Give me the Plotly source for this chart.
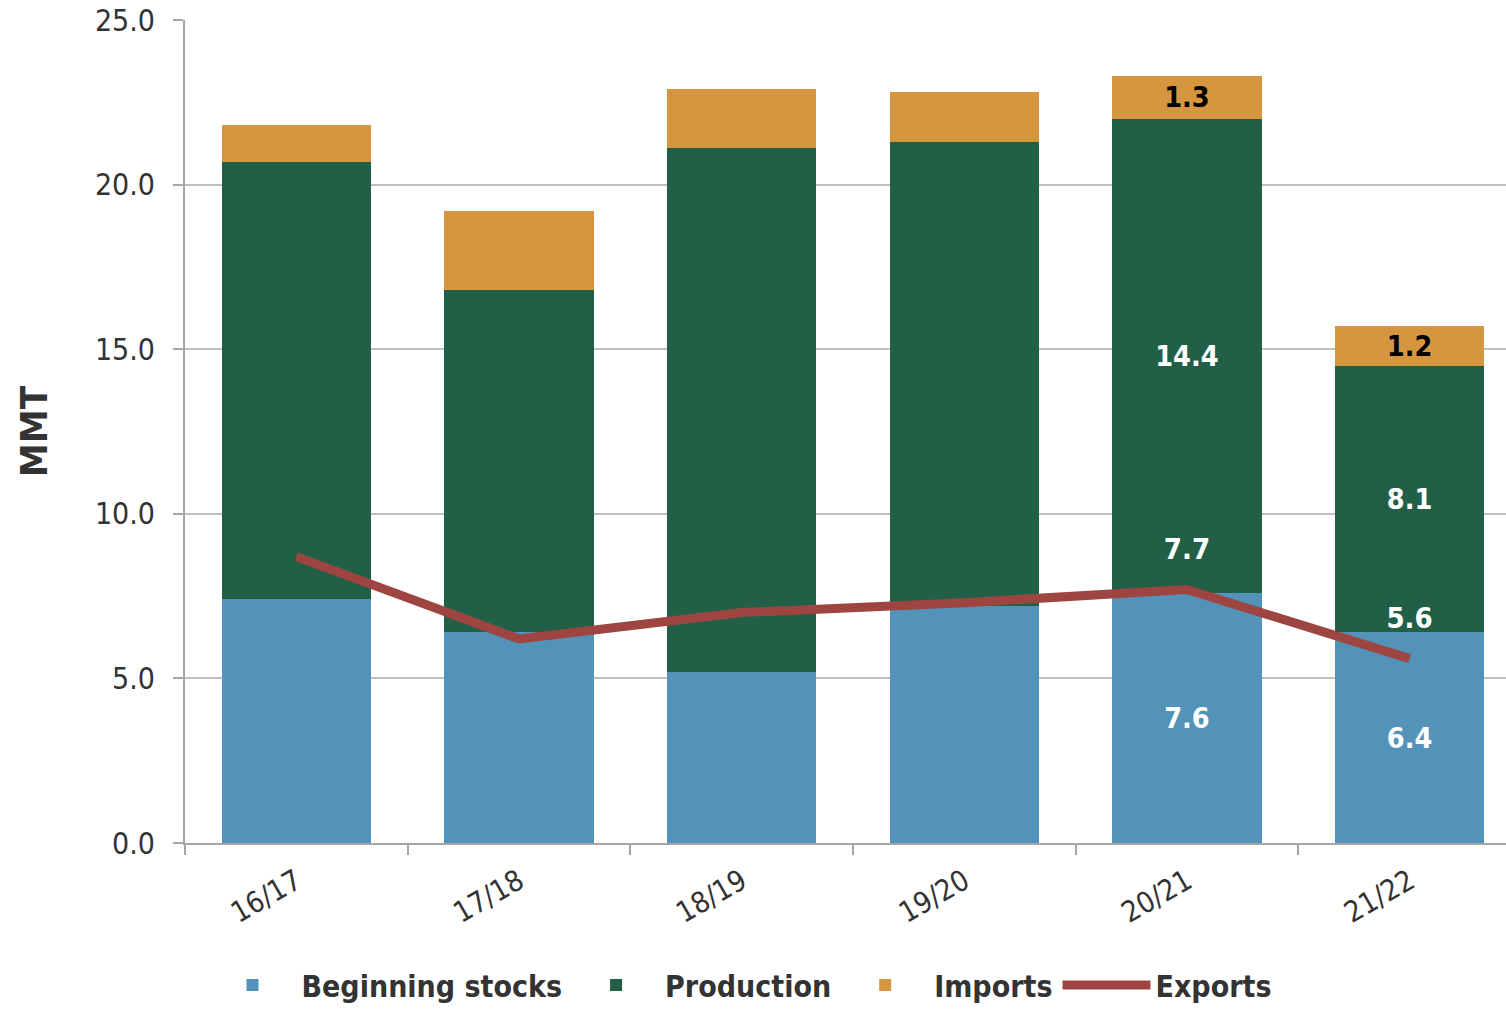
import plotly.graph_objects as go

years = ["16/17", "17/18", "18/19", "19/20", "20/21", "21/22"]
beginning_stocks = [7.4, 6.4, 5.2, 7.2, 7.6, 6.4]
production = [13.3, 10.4, 15.9, 14.1, 14.4, 8.1]
imports = [1.1, 2.4, 1.8, 1.5, 1.3, 1.2]
exports = [8.7, 6.2, 7.0, 7.3, 7.7, 5.6]

# only the last two marketing years carry data labels
labelled = [False, False, False, False, True, True]


def labels(values):
    return [f"{v:.1f}" if show else "" for v, show in zip(values, labelled)]


FONT = "DejaVu Sans Condensed, Liberation Sans Narrow, Arial Narrow, sans-serif"

fig = go.Figure()

fig.add_trace(go.Bar(
    x=years, y=beginning_stocks, name="Beginning stocks",
    marker_color="#5393BA", marker_line_width=0,
    text=labels(beginning_stocks), textposition="inside", insidetextanchor="middle",
    textfont=dict(color="white", size=29, family=FONT, weight="bold"),
))
fig.add_trace(go.Bar(
    x=years, y=production, name="Production",
    marker_color="#216047", marker_line_width=0,
    text=labels(production), textposition="inside", insidetextanchor="middle",
    textfont=dict(color="white", size=29, family=FONT, weight="bold"),
))
fig.add_trace(go.Bar(
    x=years, y=imports, name="Imports",
    marker_color="#D6963F", marker_line_width=0,
    text=labels(imports), textposition="inside", insidetextanchor="middle",
    textfont=dict(color="black", size=29, family=FONT, weight="bold"),
))
fig.add_trace(go.Scatter(
    x=years, y=exports, name="Exports", mode="lines+markers+text",
    line=dict(color="#9E4541", width=9),
    marker=dict(size=36, color="rgba(0,0,0,0)"),
    text=labels(exports), textposition="top center",
    textfont=dict(color="white", size=29, family=FONT, weight="bold"),
))

fig.update_layout(
    barmode="stack",
    bargap=0.33,
    width=1506, height=1011,
    margin=dict(l=185, r=0, t=20, b=167),
    plot_bgcolor="white", paper_bgcolor="white",
    font=dict(family=FONT, color="#333333"),
    uniformtext=dict(minsize=20, mode="show"),
    legend=dict(
        orientation="h", x=0.014, xanchor="left", y=-0.172, yanchor="middle",
        font=dict(size=30, color="#333333", family=FONT, weight="bold"),
        traceorder="normal", itemwidth=88,
    ),
)

fig.update_xaxes(
    range=[-0.5, 5.433],
    tickangle=-30, tickfont=dict(size=29),
    ticklabelstandoff=8,
    showline=True, linecolor="#A6A6A6", linewidth=2,
    ticks="outside", tickson="boundaries", ticklen=10, tickcolor="#A6A6A6", tickwidth=2,
    showgrid=False,
)
fig.update_yaxes(
    range=[0, 25], dtick=5, tickformat=".1f",
    tickfont=dict(size=30),
    ticklabelstandoff=12, ticklabeloverflow="allow",
    automargin="left",
    showline=True, linecolor="#A6A6A6", linewidth=2,
    ticks="outside", ticklen=10, tickcolor="#A6A6A6", tickwidth=2,
    showgrid=True, gridcolor="#BFBFBF", gridwidth=2,
    zeroline=False,
    title=dict(text="MMT", font=dict(size=38, color="#333333", family=FONT, weight="bold"), standoff=36),
)

# drop the default body margin so the figure fills the window exactly
fig.write_html(
    "out.html",
    config={"displayModeBar": False},
    post_script="document.body.style.margin = '0';",
)
